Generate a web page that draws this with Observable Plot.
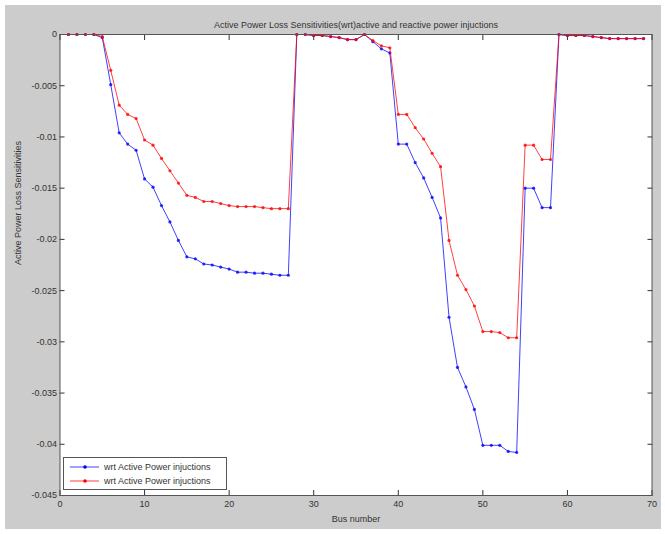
<!DOCTYPE html>
<html><head><meta charset="utf-8">
<script src="https://cdn.jsdelivr.net/npm/d3@7"></script>
<script src="https://cdn.jsdelivr.net/npm/@observablehq/plot@0.6"></script>
<style>
body{margin:0;background:#fff;}
#wrap{position:relative;width:665px;height:534px;}
#bg{position:absolute;left:5px;top:5px;width:656px;height:524px;background:#cccccc;}
#chart{position:absolute;left:0;top:0;}
#legend{position:absolute;left:63px;top:457px;width:164px;height:33px;background:#fff;border:1px solid #555;box-sizing:border-box;font:9px "Liberation Sans",Arial,sans-serif;color:#333;}
#legend .row{position:absolute;left:6px;height:12px;display:flex;align-items:center;}
#legend svg{margin-right:5px;}
</style></head>
<body>
<div id="wrap"><div id="bg"></div><div id="chart"></div>
<div id="legend"></div></div>
<script>
const titleText = "Active Power Loss Sensitivities(wrt)active and reactive power injuctions";
const xLabel = "Bus number";
const yLabel = "Active Power Loss Sensitivities";
const seriesNames = ["wrt Active Power injuctions", "wrt Active Power injuctions"];
const seriesColors = ["#0000ff", "#ff0000"];
const xTicks = [0, 10, 20, 30, 40, 50, 60, 70];
const yTicks = [0, -0.005, -0.01, -0.015, -0.02, -0.025, -0.03, -0.035, -0.04, -0.045];

const bus = [1,2,3,4,5,6,7,8,9,10,11,12,13,14,15,16,17,18,19,20,21,22,23,24,25,26,27,28,29,30,31,32,33,34,35,36,37,38,39,40,41,42,43,44,45,46,47,48,49,50,51,52,53,54,55,56,57,58,59,60,61,62,63,64,65,66,67,68,69];

const blueVals = [0,0,0,0,-0.0003,-0.0049,-0.0096,-0.0107,-0.0113,-0.0141,
  -0.0149,-0.0167,-0.0183,-0.0201,-0.0217,-0.0219,-0.0224,-0.0225,-0.0227,-0.0229,
  -0.0232,-0.0232,-0.0233,-0.0233,-0.0234,-0.0235,-0.0235,0,0,-0.0001,
  -0.0001,-0.0002,-0.0003,-0.0005,-0.0005,0,-0.0007,-0.0014,-0.0018,-0.0107,
  -0.0107,-0.0125,-0.0140,-0.0159,-0.0179,-0.0276,-0.0325,-0.0344,-0.0366,-0.0401,
  -0.0401,-0.0401,-0.0407,-0.0408,-0.0150,-0.0150,-0.0169,-0.0169,0,-0.0001,
  -0.0001,-0.0001,-0.0002,-0.0003,-0.0004,-0.0004,-0.0004,-0.0004,-0.0004];

const redVals = [0,0,0,0,-0.0002,-0.0035,-0.0069,-0.0078,-0.0082,-0.0103,
  -0.0108,-0.0121,-0.0133,-0.0145,-0.0157,-0.0159,-0.0163,-0.0163,-0.0165,-0.0167,
  -0.0168,-0.0168,-0.0168,-0.0169,-0.0170,-0.0170,-0.0170,0,0,-0.0001,
  -0.0001,-0.0002,-0.0003,-0.0005,-0.0005,0,-0.0006,-0.0011,-0.0013,-0.0078,
  -0.0078,-0.0091,-0.0102,-0.0116,-0.0129,-0.0201,-0.0235,-0.0249,-0.0265,-0.0290,
  -0.0290,-0.0291,-0.0296,-0.0296,-0.0108,-0.0108,-0.0122,-0.0122,0,-0.0001,
  -0.0001,-0.0001,-0.0002,-0.0003,-0.0004,-0.0004,-0.0004,-0.0004,-0.0004];

const blue = bus.map((b, i) => ({bus: b, v: blueVals[i]}));
const red = bus.map((b, i) => ({bus: b, v: redVals[i]}));
const fmtY = d => d === 0 ? "0" : String(+d.toFixed(3));
const noLabel = () => "";

const chart = Plot.plot({
  width: 665, height: 534,
  marginLeft: 59.5, marginRight: 13.5, marginTop: 34, marginBottom: 39,
  style: {background: "transparent", fontFamily: "'Liberation Sans', Arial, sans-serif", fontSize: "9px", color: "#333"},
  x: {domain: [0, 70]},
  y: {domain: [-0.045, 0]},
  marks: [
    Plot.frame({fill: "white"}),
    Plot.axisX({anchor: "bottom", ticks: xTicks, tickSize: -5, tickPadding: 10, tickFormat: d => String(d), label: null}),
    Plot.axisX({anchor: "top", ticks: xTicks, tickSize: -5, tickFormat: noLabel, label: null}),
    Plot.axisY({anchor: "left", ticks: yTicks, tickSize: -5, tickPadding: 8, tickFormat: fmtY, label: null}),
    Plot.axisY({anchor: "right", ticks: yTicks, tickSize: -5, tickFormat: noLabel, label: null}),
    Plot.line(blue, {x: "bus", y: "v", stroke: seriesColors[0], strokeWidth: 1, strokeOpacity: 0.75}),
    Plot.dot(blue, {x: "bus", y: "v", fill: seriesColors[0], r: 1.6, fillOpacity: 0.8}),
    Plot.line(red, {x: "bus", y: "v", stroke: seriesColors[1], strokeWidth: 1, strokeOpacity: 0.75}),
    Plot.dot(red, {x: "bus", y: "v", fill: seriesColors[1], r: 1.6, fillOpacity: 0.8}),
    Plot.frame({stroke: "#555"}),
    Plot.text([titleText], {text: d => d, frameAnchor: "top", dy: -13, fontSize: 9, fill: "#333"}),
    Plot.text([xLabel], {text: d => d, frameAnchor: "bottom", dy: 26, fontSize: 9, fill: "#333"}),
    Plot.text([yLabel], {text: d => d, frameAnchor: "left", dx: -42, rotate: -90, fontSize: 9, fill: "#333"})
  ]
});
document.getElementById("chart").appendChild(chart);

const legend = document.getElementById("legend");
seriesNames.forEach((name, i) => {
  const row = document.createElement("div");
  row.className = "row";
  row.style.top = (i === 0 ? 3 : 17) + "px";
  row.innerHTML = `<svg width="29" height="8"><line x1="0" y1="4" x2="29" y2="4" stroke="${seriesColors[i]}" stroke-opacity="0.75"/><circle cx="15" cy="4" r="1.8" fill="${seriesColors[i]}"/></svg><span>${name}</span>`;
  legend.appendChild(row);
});
</script>
</body></html>
